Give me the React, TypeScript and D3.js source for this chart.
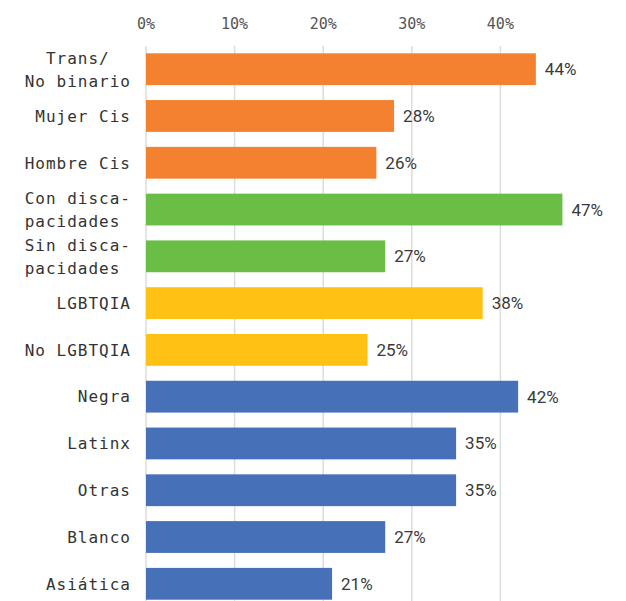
import React from "react";
import * as d3 from "d3";

const categories = [
  "Trans/  \nNo binario",
  "Mujer Cis",
  "Hombre Cis",
  "Con disca-\npacidades ",
  "Sin disca-\npacidades ",
  "LGBTQIA",
  "No LGBTQIA",
  "Negra",
  "Latinx",
  "Otras",
  "Blanco",
  "Asiática",
];
const values = [44, 28, 26, 47, 27, 38, 25, 42, 35, 35, 27, 21];
const groups = ["g", "g", "g", "d", "d", "l", "l", "r", "r", "r", "r", "r"];
const groupKeys = ["g", "d", "l", "r"];
const groupColors = ["#F4812F", "#6ABD45", "#FFC214", "#4671B8"];
const ticks = [0, 10, 20, 30, 40];

const W = 626;
const H = 601;

export default function App() {
  const x = d3.scaleLinear().domain([0, 10]).range([146, 234.6]);
  const y = d3
    .scaleBand<string>()
    .domain(categories)
    .range([46, 607])
    .paddingInner(0.32)
    .paddingOuter(0.156);
  const color = d3.scaleOrdinal<string, string>().domain(groupKeys).range(groupColors);
  const bw = y.bandwidth();
  const lineH = 23;

  return (
    <svg
      width={W}
      height={H}
      style={{ position: "absolute", left: 0, top: 0, background: "#fff" }}
    >
      {ticks.map((t) => (
        <g key={t}>
          <line x1={x(t)} x2={x(t)} y1={46} y2={H} stroke="#dcdcdc" strokeWidth={1.5} />
          <text
            x={x(t)}
            y={29}
            textAnchor="middle"
            fontFamily="'DejaVu Sans Mono', monospace"
            fontSize={15}
            fill="#555"
          >
            {t + "%"}
          </text>
        </g>
      ))}
      {categories.map((c, i) => {
        const cy = (y(c) as number) + bw / 2;
        const lines = c.split("\n");
        const first = cy + 5.8 - ((lines.length - 1) * lineH) / 2;
        return (
          <g key={c}>
            <rect
              x={x(0)}
              y={y(c)}
              width={x(values[i]) - x(0)}
              height={bw}
              fill={color(groups[i])}
            />
            <text
              x={x(values[i]) + 9}
              y={cy + 6}
              fontFamily="Roboto, sans-serif"
              fontSize={17}
              fill="#3a3a3a"
            >
              {values[i] + "%"}
            </text>
            <text
              textAnchor="end"
              fontFamily="'DejaVu Sans Mono', monospace"
              fontSize={16}
              letterSpacing={1}
              fill="#333"
              style={{ whiteSpace: "pre" }}
            >
              {lines.map((l, j) => (
                <tspan key={j} x={131} y={first + j * lineH}>
                  {l}
                </tspan>
              ))}
            </text>
          </g>
        );
      })}
    </svg>
  );
}
